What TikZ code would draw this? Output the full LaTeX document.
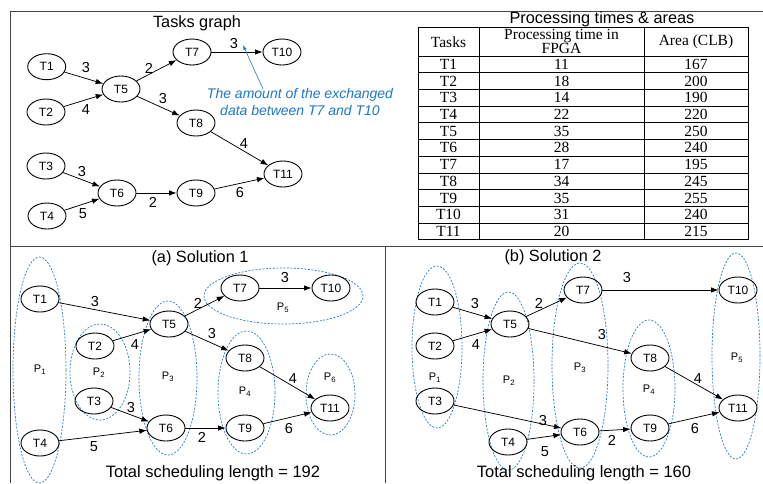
\documentclass[tikz,border=0pt]{standalone}
\usepackage{fontspec}
\setmainfont{Liberation Sans}
\newfontfamily\tabfont{Liberation Serif}
\usetikzlibrary{arrows.meta,shapes.geometric}
\definecolor{framec}{RGB}{70,70,70}
\definecolor{pblue}{RGB}{40,125,205}
\definecolor{ablue}{RGB}{30,120,200}
\begin{document}
\begin{tikzpicture}[x=1pt,y=-1pt,
 task/.style={draw,ellipse,minimum width=38pt,minimum height=26pt,inner sep=0pt,line width=0.9pt,font=\fontsize{12}{12}\selectfont},
 edge/.style={-{Latex[length=7.5pt,width=5.5pt]},line width=0.75pt},
 wlab/.style={inner sep=0pt,font=\fontsize{14.5}{14.5}\selectfont},
 ttl/.style={inner sep=0pt,font=\fontsize{16.3}{16.3}\selectfont},
 part/.style={draw=pblue,line width=0.7pt,dash pattern=on 2pt off 1.5pt},
 plab/.style={inner sep=0pt,font=\fontsize{11}{11}\selectfont},
 cell/.style={inner sep=0pt,font=\tabfont\fontsize{15.5}{15.5}\selectfont},
 tline/.style={draw=black,line width=0.8pt},
 framel/.style={draw=framec,line width=1pt}]
\useasboundingbox (0,0) rectangle (763,483);
\fill[white] (0,0) rectangle (763,483);
% frame
\draw[framel] (763,11) -- (10,11) -- (10,483);
\draw[framel] (10,246) -- (763,246);
\draw[framel] (385,246) -- (385,483);

% ===== Tasks graph =====
\node[ttl] (tg) at (197,23) {Tasks graph};
\node[task] (g1) at (46.7,66.7) {T1};
\node[task] (g2) at (46,112) {T2};
\node[task] (g5) at (121,89) {T5};
\node[task] (g7) at (192,52) {T7};
\node[task] (g10) at (282,52) {T10};
\node[task] (g8) at (196,123) {T8};
\node[task] (g3) at (46,166) {T3};
\node[task] (g4) at (47,216) {T4};
\node[task] (g6) at (117,193) {T6};
\node[task] (g9) at (196,193) {T9};
\node[task] (g11) at (283,174) {T11};
\draw[edge] (g1) -- (g5);
\draw[edge] (g2) -- (g5);
\draw[edge] (g5) -- (g7);
\draw[edge] (g5) -- (g8);
\draw[edge] (g7) -- (g10);
\draw[edge] (g8) -- (g11);
\draw[edge] (g3) -- (g6);
\draw[edge] (g4) -- (g6);
\draw[edge] (g6) -- (g9);
\draw[edge] (g9) -- (g11);
\node[wlab] (gl15) at (86,68) {3};
\node[wlab] (gl25) at (86,110) {4};
\node[wlab] (gl57) at (149,68) {2};
\node[wlab] (gl58) at (163,99) {3};
\node[wlab] (gl710) at (234,44) {3};
\node[wlab] (gl811) at (244,144) {4};
\node[wlab] (gl36) at (82,172) {3};
\node[wlab] (gl46) at (83,214) {5};
\node[wlab] (gl69) at (153,202) {2};
\node[wlab] (gl911) at (240,193) {6};
\node[inner sep=0pt,align=center,text=ablue,font=\fontsize{14}{16.5}\selectfont\itshape] (note) at (300,102) {The amount of the exchanged\\data between T7 and T10};
\coordinate (notetip) at (243,45);
\coordinate (notefoot) at (263,89);
\draw[ablue,line width=0.6pt,-{Latex[length=5pt,width=3.5pt]}] (notefoot) -- (notetip);

% ===== Table =====
\node[ttl] (tt) at (602,19) {Processing times \& areas};
\draw[tline] (418,27) rectangle (748,239.7);
\draw[tline] (479,27) -- (479,239.7);
\draw[tline] (644,27) -- (644,239.7);
\draw[tline] (418,56) -- (748,56);
\foreach \k in {1,...,10} {
  \draw[tline] (418,56+16.7*\k) -- (748,56+16.7*\k);
}
\node[cell] (h1) at (448.5,42) {Tasks};
\node[cell,align=center,font=\tabfont\fontsize{15.5}{14.5}\selectfont] (h2) at (561.5,41.5) {Processing time in\\FPGA};
\node[cell] (h3) at (696,42) {Area (CLB)};
\foreach \t/\p/\a [count=\i] in {T1/11/167,T2/18/200,T3/14/190,T4/22/220,T5/35/250,T6/28/240,T7/17/195,T8/34/245,T9/35/255,T10/31/240,T11/20/215} {
  \node[cell] (ta\i) at (448.5,56+16.7*\i-8.35) {\t};
  \node[cell] (tb\i) at (561.5,56+16.7*\i-8.35) {\p};
  \node[cell] (tc\i) at (696,56+16.7*\i-8.35) {\a};
}

% ===== Solution 1 =====
\node[ttl] (s1) at (200,258) {(a) Solution 1};
\draw[part] (39.5,370) ellipse [x radius=26.5pt, y radius=113pt];
\draw[part] (100,372) ellipse [x radius=30pt, y radius=48pt];
\draw[part] (168,378) ellipse [x radius=29pt, y radius=77pt];
\draw[part] (283.5,296) ellipse [x radius=79.5pt, y radius=28pt];
\draw[part] (246.5,392.5) ellipse [x radius=28.5pt, y radius=61.5pt];
\draw[part] (330.5,394.5) ellipse [x radius=24.5pt, y radius=40.5pt];
\node[plab] (ap1) at (40,370) {P\textsubscript{1}};
\node[plab] (ap2) at (99,373) {P\textsubscript{2}};
\node[plab] (ap3) at (168,377) {P\textsubscript{3}};
\node[plab] (ap4) at (245,392) {P\textsubscript{4}};
\node[plab] (ap5) at (283,308) {P\textsubscript{5}};
\node[plab] (ap6) at (330,378) {P\textsubscript{6}};
\node[task] (a1) at (40,299) {T1};
\node[task] (a4) at (40,443) {T4};
\node[task] (a2) at (95,346) {T2};
\node[task] (a3) at (94,401) {T3};
\node[task] (a5) at (169,324) {T5};
\node[task] (a6) at (166,428) {T6};
\node[task] (a7) at (240,288) {T7};
\node[task] (a10) at (331,288) {T10};
\node[task] (a8) at (245,358) {T8};
\node[task] (a9) at (245,428) {T9};
\node[task] (a11) at (330,408) {T11};
\draw[edge] (a1) -- (a5);
\draw[edge] (a2) -- (a5);
\draw[edge] (a5) -- (a7);
\draw[edge] (a5) -- (a8);
\draw[edge] (a7) -- (a10);
\draw[edge] (a3) -- (a6);
\draw[edge] (a4) -- (a6);
\draw[edge] (a6) -- (a9);
\draw[edge] (a8) -- (a11);
\draw[edge] (a9) -- (a11);
\node[wlab] (al15) at (95,302) {3};
\node[wlab] (al25) at (135,345) {4};
\node[wlab] (al57) at (198,303) {2};
\node[wlab] (al58) at (212,334) {3};
\node[wlab] (al710) at (285,278) {3};
\node[wlab] (al36) at (131,407) {3};
\node[wlab] (al46) at (94,447) {5};
\node[wlab] (al69) at (202,437) {2};
\node[wlab] (al811) at (293,379) {4};
\node[wlab] (al911) at (289,428) {6};
\node[ttl,font=\fontsize{16.5}{16.5}\selectfont] (len1) at (213,473.5) {Total scheduling length = 192};

% ===== Solution 2 =====
\node[ttl] (s2) at (553,257) {(b) Solution 2};
\draw[part] (437,347) ellipse [x radius=25pt, y radius=81pt];
\draw[part] (508.5,381) ellipse [x radius=25.5pt, y radius=89pt];
\draw[part] (580,365.5) ellipse [x radius=28pt, y radius=102.5pt];
\draw[part] (649,388.5) ellipse [x radius=26pt, y radius=68.5pt];
\draw[part] (736,356) ellipse [x radius=24pt, y radius=103pt];
\node[plab] (bp1) at (435,378) {P\textsubscript{1}};
\node[plab] (bp2) at (509,381) {P\textsubscript{2}};
\node[plab] (bp3) at (580,368) {P\textsubscript{3}};
\node[plab] (bp4) at (649,390) {P\textsubscript{4}};
\node[plab] (bp5) at (737,358) {P\textsubscript{5}};
\node[task] (b1) at (435,302) {T1};
\node[task] (b2) at (435,346) {T2};
\node[task] (b3) at (435,401) {T3};
\node[task] (b5) at (510,324) {T5};
\node[task] (b4) at (508,442) {T4};
\node[task] (b7) at (583,290) {T7};
\node[task] (b6) at (580,432) {T6};
\node[task] (b8) at (650,358) {T8};
\node[task] (b9) at (650,428) {T9};
\node[task] (b10) at (738,290) {T10};
\node[task] (b11) at (738,408) {T11};
\draw[edge] (b1) -- (b5);
\draw[edge] (b2) -- (b5);
\draw[edge] (b5) -- (b7);
\draw[edge] (b5) -- (b8);
\draw[edge] (b7) -- (b10);
\draw[edge] (b3) -- (b6);
\draw[edge] (b4) -- (b6);
\draw[edge] (b6) -- (b9);
\draw[edge] (b8) -- (b11);
\draw[edge] (b9) -- (b11);
\node[wlab] (bl15) at (475,304) {3};
\node[wlab] (bl25) at (476,345) {4};
\node[wlab] (bl57) at (539,303) {2};
\node[wlab] (bl710) at (627,278) {3};
\node[wlab] (bl58) at (602,335) {3};
\node[wlab] (bl36) at (543,420) {3};
\node[wlab] (bl46) at (545,452) {5};
\node[wlab] (bl69) at (612,440) {2};
\node[wlab] (bl811) at (698,379) {4};
\node[wlab] (bl911) at (695,428) {6};
\node[ttl,font=\fontsize{16.5}{16.5}\selectfont] (len2) at (584,473.5) {Total scheduling length = 160};
\end{tikzpicture}
\end{document}
